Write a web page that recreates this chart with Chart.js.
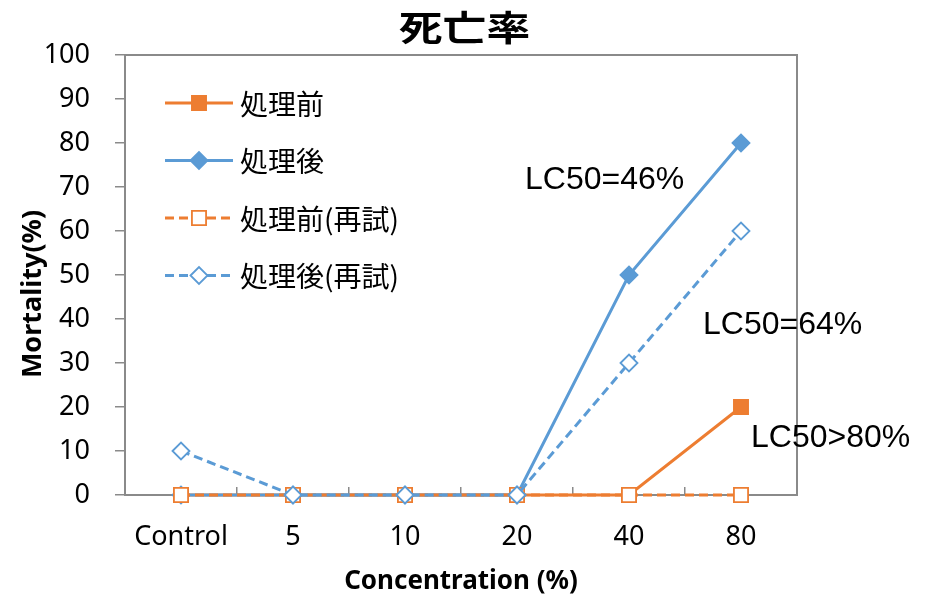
<!DOCTYPE html>
<html>
<head>
<meta charset="utf-8">
<script src="https://cdn.jsdelivr.net/npm/chart.js@4.4.1/dist/chart.umd.min.js"></script>
<style>
  html, body { margin: 0; padding: 0; background: #fff; }
  #wrap { width: 929px; height: 599px; }
</style>
</head>
<body>
<div id="wrap"><canvas id="chart"></canvas></div>
<script>
/* 死亡率グラフ: 処理前/処理後 と再試の4系列 */

const CATEGORIES = ["Control", "5", "10", "20", "40", "80"];
const SERIES_NAMES = ["処理前", "処理後", "処理前(再試)", "処理後(再試)"];
const BEFORE = [0, 0, 0, 0, 0, 20];
const AFTER = [0, 0, 0, 0, 50, 80];
const BEFORE_RETRY = [0, 0, 0, 0, 0, 0];
const AFTER_RETRY = [10, 0, 0, 0, 30, 60];
const LC50_LABELS = ["LC50=46%", "LC50=64%", "LC50>80%"];
const Y_MIN = 0;
const Y_MAX = 100;
const Y_STEP = 10;

const ORANGE = "#ed7d31";
const BLUE = "#5b9bd5";
const AXIS = "#8a8a8a";
const TICK_FONT = "'Noto Sans', 'Open Sans', sans-serif";
const CJK_FONT = "'Noto Sans CJK JP', 'Noto Sans', sans-serif";

// 系列ごとの見た目(凡例でも同じものを使う)
const STYLES = [
  { color: ORANGE, dash: [], pointStyle: "rect", radius: 10, fill: ORANGE, order: 4 },
  { color: BLUE, dash: [], pointStyle: "rectRot", radius: 8.5, fill: BLUE, order: 3 },
  { color: ORANGE, dash: [9, 5], pointStyle: "rect", radius: 10, fill: "#fff", order: 2 },
  { color: BLUE, dash: [9, 5], pointStyle: "rectRot", radius: 8.5, fill: "#fff", order: 1 },
];
const SERIES = [BEFORE, AFTER, BEFORE_RETRY, AFTER_RETRY];

// グラフ上部のタイトル(横に少し広げた太字)と縦軸タイトル
const titlePlugin = {
  id: "mTitle",
  afterDraw(chart) {
    const ctx = chart.ctx;
    ctx.save();
    ctx.fillStyle = "#000";
    ctx.textAlign = "center";
    ctx.textBaseline = "middle";
    ctx.translate(chart.width / 2, 28);
    ctx.scale(1.25, 1);
    ctx.font = `bold 35px ${CJK_FONT}`;
    ctx.fillText("死亡率", 0, 0);
    ctx.restore();

    ctx.save();
    ctx.fillStyle = "#000";
    ctx.textAlign = "center";
    ctx.textBaseline = "middle";
    ctx.translate(33, 294);
    ctx.rotate(-Math.PI / 2);
    ctx.font = `bold 27px ${TICK_FONT}`;
    ctx.fillText("Mortality(%)", 0, 0);
    ctx.restore();
  },
};

// プロット領域の枠線
const framePlugin = {
  id: "mFrame",
  beforeDatasetsDraw(chart) {
    const a = chart.chartArea;
    const ctx = chart.ctx;
    ctx.save();
    ctx.strokeStyle = AXIS;
    ctx.lineWidth = 2;
    ctx.strokeRect(a.left, a.top, a.right - a.left, a.bottom - a.top);
    ctx.restore();
  },
};

// 凡例: 線+マーカーの見本をプロット内左上に
const legendPlugin = {
  id: "mLegend",
  afterDatasetsDraw(chart) {
    const a = chart.chartArea;
    const ctx = chart.ctx;
    ctx.save();
    SERIES_NAMES.forEach((name, i) => {
      const s = STYLES[i];
      const y = a.top + 48 + i * 57.5;
      const x0 = a.left + 40;
      ctx.strokeStyle = s.color;
      ctx.lineWidth = 3;
      ctx.setLineDash(s.dash);
      ctx.beginPath();
      ctx.moveTo(x0, y);
      ctx.lineTo(x0 + 68, y);
      ctx.stroke();
      ctx.setLineDash([]);
      ctx.fillStyle = s.fill;
      ctx.lineWidth = 1.8;
      Chart.helpers.drawPoint(ctx, { pointStyle: s.pointStyle, radius: s.radius, rotation: 0, borderWidth: 1.8 }, x0 + 34, y);
      ctx.fillStyle = "#000";
      ctx.font = `28px ${CJK_FONT}`;
      ctx.textAlign = "left";
      ctx.textBaseline = "middle";
      ctx.fillText(name, x0 + 75, y + 1);
    });
    ctx.restore();
  },
};

// LC50 の注記
const notePlugin = {
  id: "mNotes",
  afterDatasetsDraw(chart) {
    const a = chart.chartArea;
    const ctx = chart.ctx;
    const spots = [
      [400, 125],
      [578, 270],
      [626, 383],
    ];
    ctx.save();
    ctx.font = `32px 'Liberation Sans', Arial, sans-serif`;
    ctx.fillStyle = "#000";
    ctx.textAlign = "left";
    ctx.textBaseline = "middle";
    LC50_LABELS.forEach((t, i) => ctx.fillText(t, a.left + spots[i][0], a.top + spots[i][1]));
    ctx.restore();
  },
};

new Chart(document.getElementById("chart"), {
  type: "line",
  data: {
    labels: CATEGORIES,
    datasets: SERIES.map((vals, i) => ({
      label: SERIES_NAMES[i],
      data: vals,
      borderColor: STYLES[i].color,
      borderWidth: 3,
      borderDash: STYLES[i].dash,
      pointStyle: STYLES[i].pointStyle,
      pointRadius: STYLES[i].radius,
      pointHoverRadius: STYLES[i].radius,
      pointBackgroundColor: STYLES[i].fill,
      pointBorderColor: STYLES[i].color,
      pointBorderWidth: 1.8,
      tension: 0,
      clip: false,
      order: STYLES[i].order,
    })),
  },
  options: {
    responsive: true,
    maintainAspectRatio: false,
    animation: false,
    layout: { padding: { top: 55, right: 132, left: 0, bottom: 0 } },
    plugins: {
      legend: { display: false },
      title: { display: false },
      tooltip: { enabled: false },
    },
    scales: {
      x: {
        offset: true,
        afterFit: (s) => { s.height = 104; },
        grid: { offset: true, drawOnChartArea: false, tickLength: -8, color: AXIS, lineWidth: 1.5 },
        border: { color: AXIS, width: 2 },
        ticks: { color: "#000", padding: 34, font: { family: TICK_FONT, size: 27 } },
        title: {
          display: true,
          text: "Concentration (%)",
          color: "#000",
          font: { family: TICK_FONT, size: 26, weight: "bold" },
          padding: { top: 0, bottom: 2 },
        },
      },
      y: {
        min: Y_MIN,
        max: Y_MAX,
        afterFit: (s) => { s.width = 125; },
        grid: { drawOnChartArea: false, tickLength: 10, color: AXIS, lineWidth: 1.5 },
        border: { color: AXIS, width: 2 },
        ticks: { stepSize: Y_STEP, color: "#000", padding: 25, font: { family: TICK_FONT, size: 27 } },
        title: { display: false },
      },
    },
  },
  plugins: [framePlugin, legendPlugin, notePlugin, titlePlugin],
});
</script>
</body>
</html>
